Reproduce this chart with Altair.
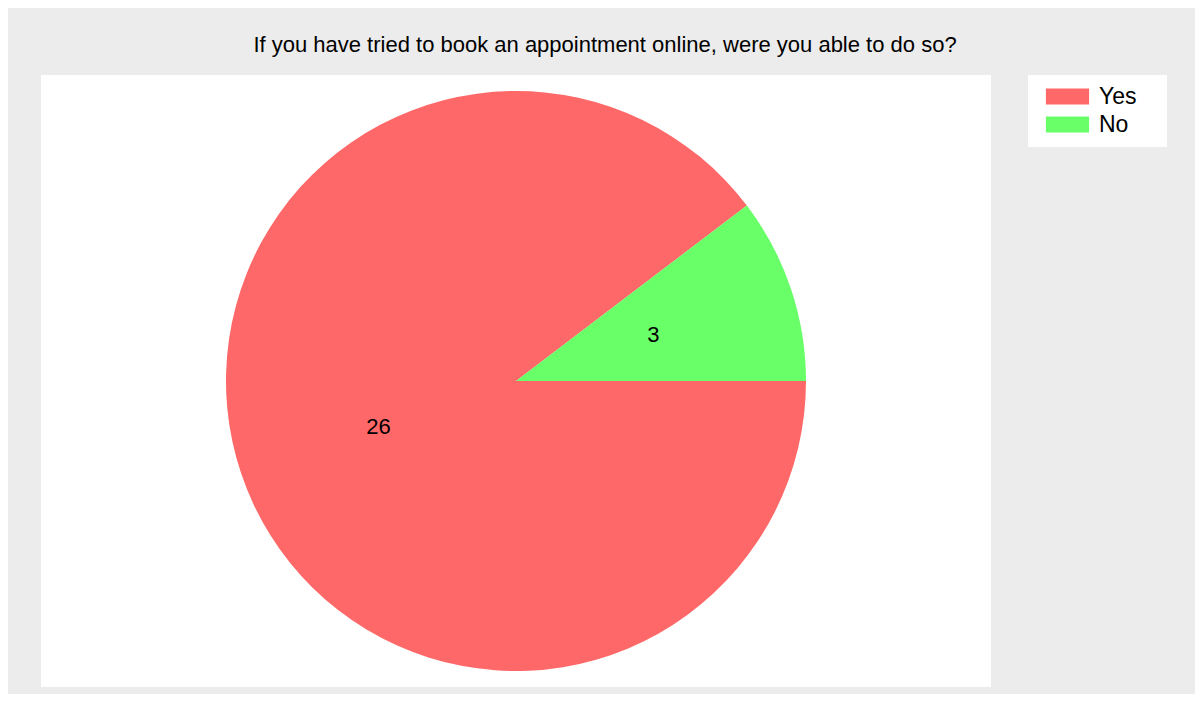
import math
import altair as alt
import pandas as pd

categories = ["Yes", "No"]
counts = [26, 3]
colors = ["#ff6868", "#68ff68"]

df = pd.DataFrame({"answer": categories, "count": counts, "ord": [0, 1]})

FONT = "Liberation Sans"

base = alt.Chart(df).encode(
    theta=alt.Theta("count:Q", stack=True,
                    scale=alt.Scale(range=[math.pi / 2, math.pi / 2 + 2 * math.pi])),
    order=alt.Order("ord:Q"),
)

pie = base.mark_arc(outerRadius=290).encode(
    color=alt.Color(
        "answer:N",
        scale=alt.Scale(domain=categories, range=colors),
        legend=alt.Legend(
            title=".",
            titleOrient="right",
            titleColor="white",
            titleFontSize=2,
            titlePadding=19,
            orient="none",
            legendX=987,
            legendY=0,
            fillColor="white",
            padding=10,
            symbolType="M-2.7,-1H2.7V1H-2.7Z",
            symbolSize=256,
            symbolStrokeWidth=0,
            symbolOffset=18,
            labelFont=FONT,
            labelFontSize=23,
            labelColor="black",
            labelOffset=20,
            rowPadding=4,
        ),
    )
)

labels = base.mark_text(radius=145, font=FONT, fontSize=22, color="black").encode(
    text="count:Q"
)

chart = (
    alt.layer(pie, labels)
    .properties(
        width=950,
        height=612,
        background="#ececec",
        padding={"left": 33, "top": 67, "right": 204, "bottom": 7},
        autosize=alt.AutoSizeParams(type="none"),
        view=alt.ViewBackground(fill="white", strokeWidth=0),
        title=alt.Title(
            "If you have tried to book an appointment online, were you able to do so?",
            font=FONT,
            fontSize=22,
            fontWeight="normal",
            color="black",
            anchor="middle",
            dx=89,
            offset=18,
        ),
    )
)

chart.save("out.html", embed_options={"renderer": "svg", "actions": False})
